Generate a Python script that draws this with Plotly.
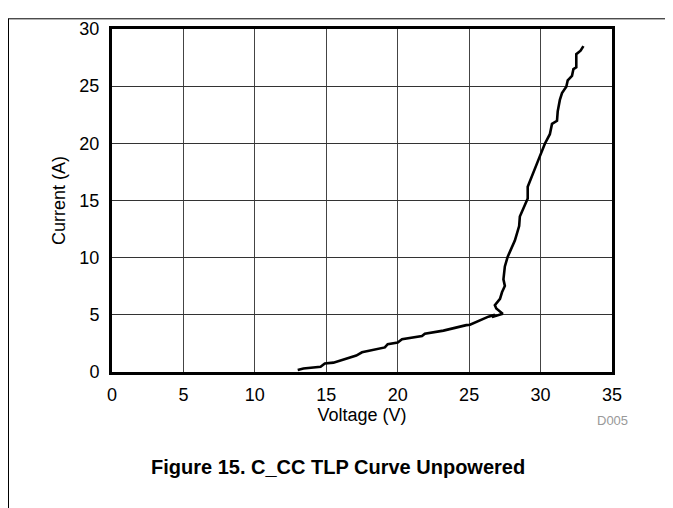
import plotly.graph_objects as go

voltage = [13.0, 13.4, 14.6, 14.9, 15.5, 17.1, 17.5, 19.1, 19.3, 20.0, 20.3, 21.7, 21.9,
           23.2, 24.8, 25.06, 26.35, 26.8, 26.6, 27.35, 26.9, 26.8, 27.16, 27.3, 27.5, 27.4,
           27.5, 27.7, 28.2, 28.5, 28.55, 29.1, 29.1, 29.5, 29.8, 30.3, 30.65, 30.8, 31.15,
           31.2, 31.35, 31.5, 31.8, 31.9, 32.2, 32.3, 32.5, 32.5, 32.8, 33.0]
current = [0.17, 0.3, 0.45, 0.74, 0.82, 1.44, 1.72, 2.15, 2.44, 2.58, 2.86, 3.14, 3.34,
           3.62, 4.1, 4.14, 4.84, 5.0, 4.8, 5.1, 5.55, 5.84, 6.4, 6.97, 7.53, 8.1,
           9.23, 10.08, 11.5, 12.77, 13.6, 15.17, 16.2, 17.4, 18.4, 19.97, 20.8, 21.7, 21.97,
           22.8, 23.8, 24.4, 24.95, 25.5, 25.9, 26.5, 26.65, 27.8, 28.1, 28.5]

x_ticks = [0, 5, 10, 15, 20, 25, 30, 35]
y_ticks = [0, 5, 10, 15, 20, 25, 30]

font = "Liberation Sans, Arial, sans-serif"

# page offset of the figure inside the browser (body margin)
OFF = 8
PL, PR, PT, PB = 112, 612, 19, 372  # plot area in page pixels


def px(x):
    return (x - PL) / (PR - PL)


def py(y):
    return (PB - y) / (PB - PT)


fig = go.Figure()
fig.add_trace(go.Scatter(x=voltage, y=current, mode="lines",
                         line=dict(color="black", width=2.6), showlegend=False))

fig.update_layout(
    width=673 - OFF, height=508 - OFF,
    margin=dict(l=PL - OFF, r=673 - PR, t=PT - OFF, b=508 - PB),
    paper_bgcolor="white", plot_bgcolor="white",
    font=dict(family=font, size=18, color="black"),
    xaxis=dict(range=[0, 35], tickvals=x_ticks, showgrid=True, gridcolor="#444",
               gridwidth=1, zeroline=False, showline=True, linecolor="black",
               linewidth=3, mirror=True, ticks="", ticklen=0, ticklabelstandoff=4,
               tickfont=dict(size=18),
               title=dict(text="Voltage (V)", standoff=0, font=dict(size=18))),
    yaxis=dict(range=[0, 30], tickvals=y_ticks, showgrid=True, gridcolor="#333",
               gridwidth=1, zeroline=False, showline=True, linecolor="black",
               linewidth=3, mirror=True, ticks="", ticklen=0, ticklabelstandoff=6,
               tickfont=dict(size=18),
               title=dict(text="Current (A)", standoff=10, font=dict(size=18))),
)

# page frame lines
fig.add_shape(type="line", xref="paper", yref="paper", x0=-0.3, x1=1.2,
              y0=py(8.5), y1=py(8.5), line=dict(color="black", width=1))
fig.add_shape(type="line", xref="paper", yref="paper", x0=px(8.5), x1=px(8.5),
              y0=py(8.5), y1=-0.5, line=dict(color="black", width=1))

fig.add_annotation(text="D005", xref="paper", yref="paper", x=px(612),
                   y=py(422), showarrow=False, xanchor="center", yanchor="middle",
                   font=dict(size=13, color="#999"))
fig.add_annotation(text="<b>Figure 15. C_CC TLP Curve Unpowered</b>", xref="paper", yref="paper",
                   x=px(338), y=py(470), showarrow=False,
                   xanchor="center", yanchor="middle", font=dict(size=20, color="black"))

fig.write_html("out.html")
